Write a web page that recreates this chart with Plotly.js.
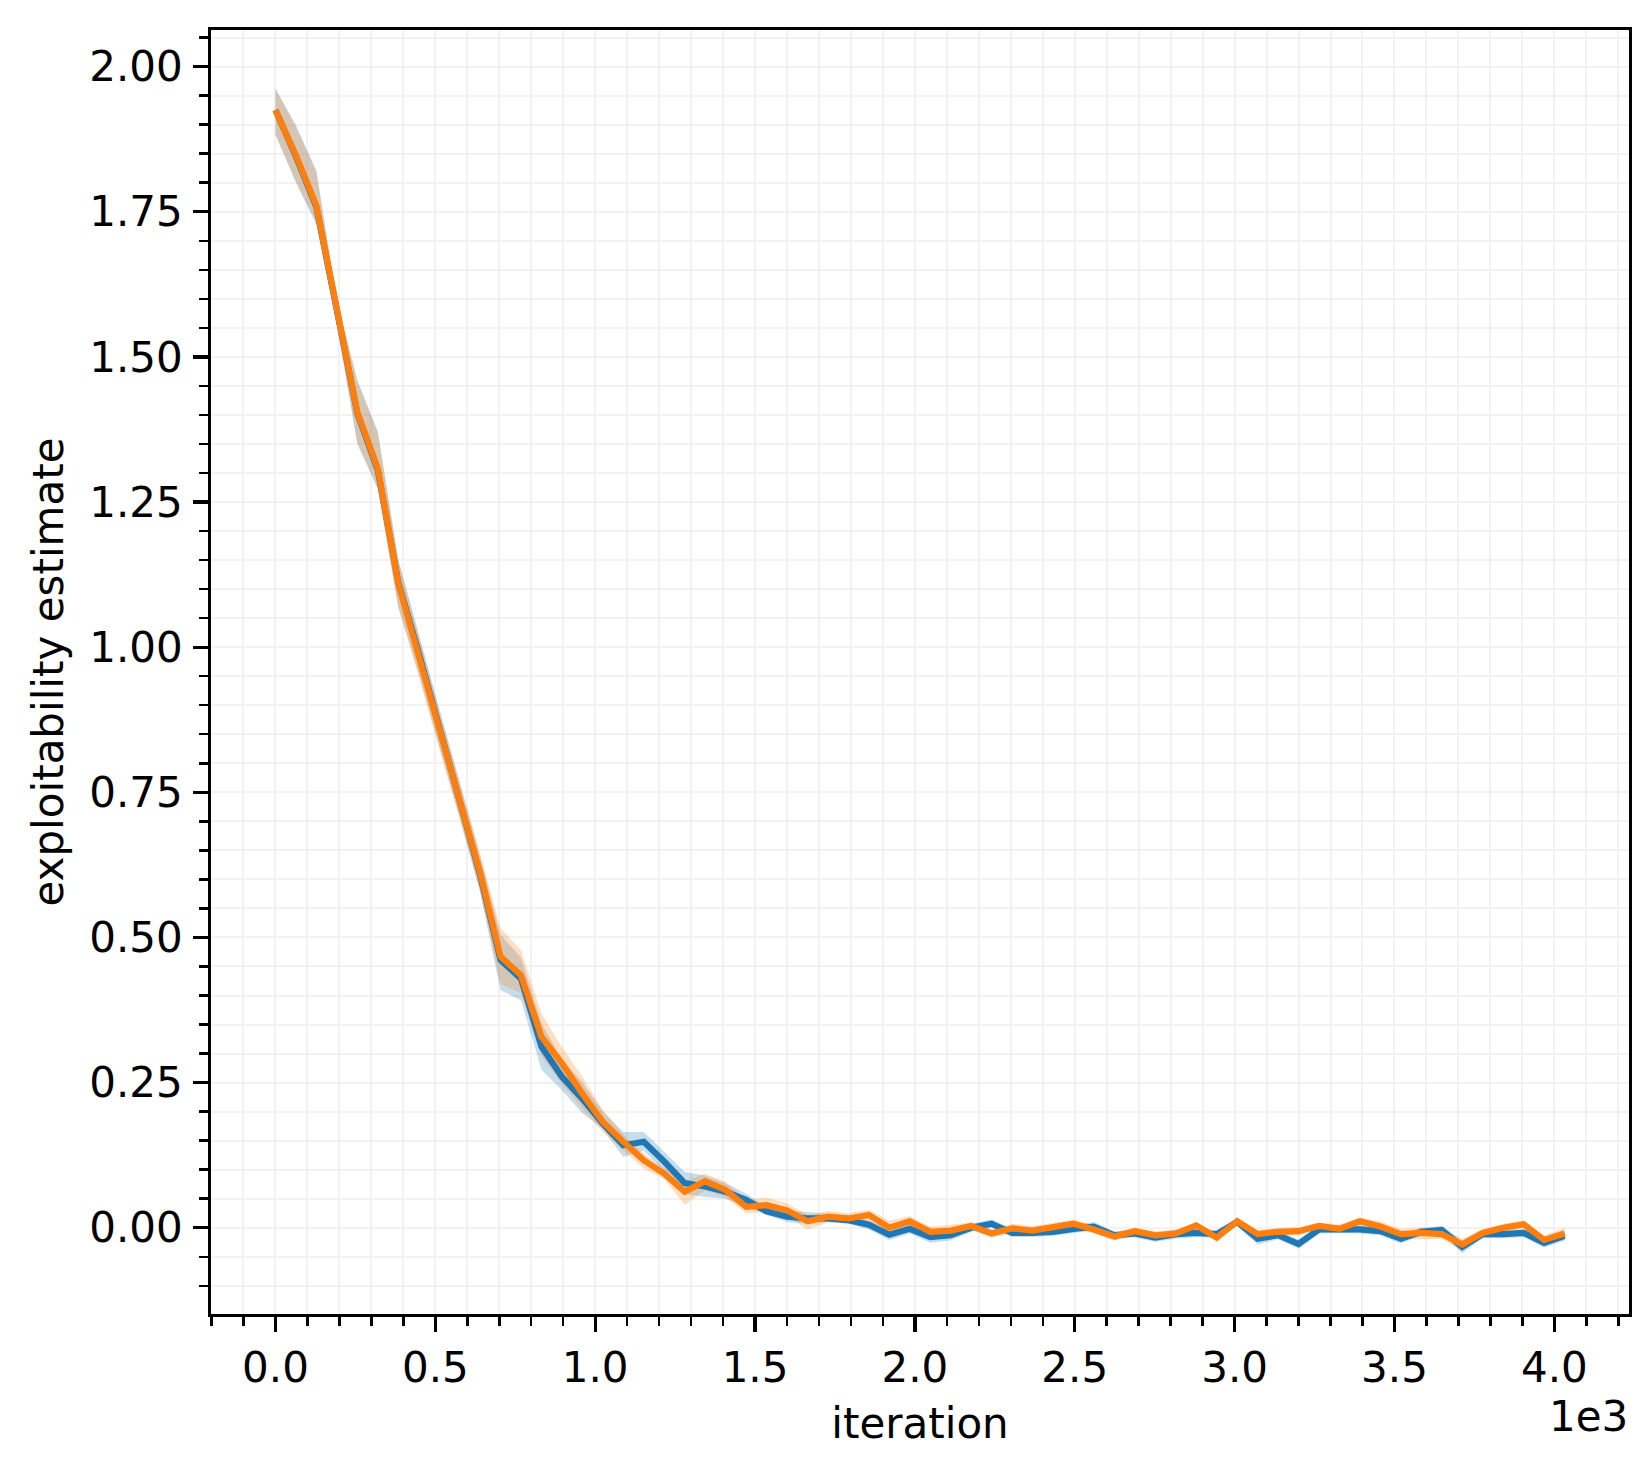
<!DOCTYPE html>
<html>
<head>
<meta charset="utf-8">
<script src="https://cdn.plot.ly/plotly-3.0.1.min.js"></script>
<style>html,body{margin:0;padding:0;background:#fff;}#chart{width:1651px;height:1474px;}</style>
</head>
<body>
<div id="chart"></div>
<script>
// iterations
const iteration = [0,64,128,192,256,320,384,448,512,576,640,704,768,832,896,960,1024,1088,1152,1216,1280,1344,1408,1472,1536,1600,1664,1728,1792,1856,1920,1984,2048,2112,2176,2240,2304,2368,2432,2496,2560,2624,2688,2752,2816,2880,2944,3008,3072,3136,3200,3264,3328,3392,3456,3520,3584,3648,3712,3776,3840,3904,3968,4032];

// series 1 (blue)
const blueMean = [1.925,1.845,1.758,1.575,1.403,1.305,1.112,0.990,0.862,0.738,0.608,0.461,0.429,0.312,0.260,0.222,0.179,0.142,0.148,0.114,0.077,0.071,0.062,0.048,0.028,0.019,0.016,0.016,0.013,0.005,-0.012,-0.002,-0.016,-0.013,0.000,0.007,-0.009,-0.009,-0.007,-0.002,0.002,-0.013,-0.010,-0.017,-0.011,-0.009,-0.011,0.010,-0.019,-0.013,-0.028,-0.003,-0.002,-0.003,-0.006,-0.019,-0.007,-0.004,-0.033,-0.011,-0.011,-0.009,-0.026,-0.014];
const blueUpper = [1.962,1.899,1.821,1.597,1.460,1.372,1.152,1.025,0.895,0.770,0.640,0.505,0.465,0.352,0.290,0.250,0.200,0.165,0.165,0.131,0.096,0.090,0.076,0.059,0.036,0.030,0.027,0.024,0.021,0.013,-0.003,0.006,-0.008,-0.005,0.007,0.014,-0.002,-0.002,0.000,0.005,0.010,-0.006,-0.003,-0.010,-0.003,-0.002,-0.004,0.017,-0.006,-0.006,-0.020,0.004,0.005,0.004,0.001,-0.011,0.000,0.003,-0.022,-0.004,-0.004,-0.002,-0.018,-0.006];
const blueLower = [1.882,1.800,1.728,1.555,1.350,1.272,1.070,0.955,0.830,0.708,0.578,0.409,0.392,0.272,0.237,0.197,0.170,0.122,0.133,0.097,0.058,0.053,0.050,0.036,0.022,0.010,0.007,0.010,0.007,-0.003,-0.021,-0.010,-0.026,-0.022,-0.007,0.000,-0.016,-0.016,-0.014,-0.009,-0.005,-0.020,-0.017,-0.024,-0.019,-0.016,-0.018,0.003,-0.029,-0.020,-0.036,-0.010,-0.009,-0.010,-0.013,-0.027,-0.014,-0.011,-0.044,-0.018,-0.018,-0.016,-0.034,-0.022];

// series 2 (orange)
const orangeMean = [1.925,1.847,1.760,1.577,1.405,1.308,1.110,0.985,0.858,0.735,0.612,0.467,0.435,0.329,0.283,0.231,0.182,0.148,0.116,0.093,0.062,0.080,0.065,0.036,0.039,0.030,0.011,0.019,0.016,0.022,0.000,0.011,-0.007,-0.005,0.003,-0.010,-0.001,-0.005,0.000,0.007,-0.003,-0.015,-0.006,-0.013,-0.010,0.004,-0.017,0.011,-0.011,-0.007,-0.006,0.003,-0.002,0.011,0.002,-0.011,-0.009,-0.011,-0.029,-0.009,0.000,0.006,-0.021,-0.010];
const orangeUpper = [1.962,1.897,1.818,1.598,1.458,1.370,1.150,1.020,0.890,0.768,0.645,0.516,0.478,0.369,0.311,0.260,0.203,0.160,0.128,0.103,0.080,0.093,0.079,0.048,0.052,0.042,0.022,0.029,0.025,0.031,0.012,0.020,0.002,0.005,0.010,-0.003,0.007,0.003,0.008,0.014,0.004,-0.008,0.001,-0.006,-0.003,0.010,-0.010,0.018,-0.004,0.000,0.001,0.009,0.005,0.018,0.011,-0.002,0.000,-0.003,-0.019,-0.002,0.007,0.013,-0.014,0.000];
const orangeLower = [1.884,1.802,1.732,1.556,1.352,1.275,1.068,0.950,0.825,0.703,0.580,0.420,0.404,0.295,0.248,0.205,0.165,0.133,0.102,0.084,0.039,0.065,0.052,0.025,0.028,0.020,-0.003,0.009,0.007,0.013,-0.012,0.002,-0.016,-0.013,-0.003,-0.017,-0.009,-0.012,-0.007,0.000,-0.010,-0.022,-0.013,-0.020,-0.017,-0.002,-0.024,0.004,-0.018,-0.014,-0.013,-0.003,-0.009,0.004,-0.009,-0.020,-0.020,-0.019,-0.040,-0.016,-0.007,-0.001,-0.028,-0.022];

// tick labels
const xTickVals = [0,500,1000,1500,2000,2500,3000,3500,4000];
const xTickText = ["0.0","0.5","1.0","1.5","2.0","2.5","3.0","3.5","4.0"];
const yTickVals = [0,0.25,0.5,0.75,1.0,1.25,1.5,1.75,2.0];
const yTickText = ["0.00","0.25","0.50","0.75","1.00","1.25","1.50","1.75","2.00"];

const BLUE = '#1f77b4', ORANGE = '#ff7f0e';
const FONT = 'DejaVu Sans, Liberation Sans, sans-serif';
const FS = 42;

const traces = [
  {x: iteration, y: blueLower, mode: 'lines', line: {width: 0, color: BLUE}, showlegend: false, hoverinfo: 'skip'},
  {x: iteration, y: blueUpper, mode: 'lines', line: {width: 0, color: BLUE}, fill: 'tonexty', fillcolor: 'rgba(31,119,180,0.25)', showlegend: false, hoverinfo: 'skip'},
  {x: iteration, y: orangeLower, mode: 'lines', line: {width: 0, color: ORANGE}, showlegend: false, hoverinfo: 'skip'},
  {x: iteration, y: orangeUpper, mode: 'lines', line: {width: 0, color: ORANGE}, fill: 'tonexty', fillcolor: 'rgba(255,127,14,0.25)', showlegend: false, hoverinfo: 'skip'},
  {x: iteration, y: blueMean, mode: 'lines', line: {width: 6.2, color: BLUE}, showlegend: false},
  {x: iteration, y: orangeMean, mode: 'lines', line: {width: 6.2, color: ORANGE}, showlegend: false}
];

const gridCol = '#f2f2f2';

const layout = {
  width: 1651, height: 1474,
  margin: {l: 211, r: 22, t: 30, b: 160, pad: 0},
  paper_bgcolor: '#fff', plot_bgcolor: '#fff',
  font: {family: FONT, size: FS, color: '#000'},
  showlegend: false,
  xaxis: {
    range: [-201.6, 4233.6],
    tickmode: 'array', tickvals: xTickVals, ticktext: xTickText,
    ticks: 'outside', ticklen: 14.6, tickwidth: 3.3, tickcolor: '#000',
    showline: true, linewidth: 3.3, linecolor: '#000', mirror: true,
    showgrid: true, gridcolor: gridCol, gridwidth: 2,
    zeroline: false,
    ticklabelstandoff: 0,
    minor: {tickmode: 'linear', tick0: 0, dtick: 100, ticks: 'outside', ticklen: 8.3, tickwidth: 2.5, tickcolor: '#000', showgrid: true, gridcolor: gridCol, gridwidth: 2},
    title: {text: 'iteration', font: {family: FONT, size: FS, color: '#000'}, standoff: 18},
    automargin: false
  },
  yaxis: {
    range: [-0.1486, 2.063],
    tickmode: 'array', tickvals: yTickVals, ticktext: yTickText,
    ticks: 'outside', ticklen: 14.6, tickwidth: 3.3, tickcolor: '#000',
    showline: true, linewidth: 3.3, linecolor: '#000', mirror: true,
    showgrid: true, gridcolor: gridCol, gridwidth: 2,
    zeroline: false,
    ticklabelstandoff: 2,
    minor: {tickmode: 'linear', tick0: 0, dtick: 0.05, ticks: 'outside', ticklen: 8.3, tickwidth: 2.5, tickcolor: '#000', showgrid: true, gridcolor: gridCol, gridwidth: 2},
    title: {text: 'exploitability estimate', font: {family: FONT, size: FS, color: '#000'}, standoff: 13},
    automargin: false
  },
  annotations: [
    {text: '1e3', xref: 'paper', yref: 'paper', x: 1, y: -0.08, xanchor: 'right', yanchor: 'middle', borderpad: 0, showarrow: false, font: {family: FONT, size: FS, color: '#000'}}
  ]
};

Plotly.newPlot('chart', traces, layout, {displayModeBar: false, staticPlot: true});
</script>
</body>
</html>
